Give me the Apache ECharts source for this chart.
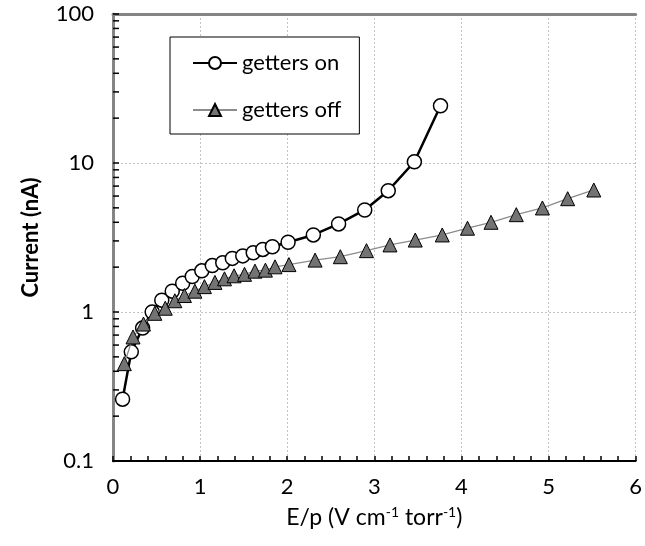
<!DOCTYPE html>
<html>
<head>
<meta charset="utf-8">
<script src="https://cdn.jsdelivr.net/npm/echarts@6/dist/echarts.min.js"></script>
<style>
  html, body { margin: 0; padding: 0; background: #fff; }
  #chart { width: 645px; height: 546px; }
</style>
</head>
<body>
<div id="chart"></div>
<script>
// getters on (circles)
const onX = [0.11, 0.21, 0.34, 0.45, 0.56, 0.68, 0.80, 0.91, 1.02, 1.14, 1.26, 1.37, 1.49, 1.61, 1.72, 1.83, 2.01, 2.30, 2.59, 2.89, 3.16, 3.46, 3.76];
const onY = [0.26, 0.54, 0.78, 1.0, 1.2, 1.38, 1.56, 1.73, 1.89, 2.05, 2.14, 2.29, 2.38, 2.5, 2.63, 2.74, 2.94, 3.29, 3.9, 4.84, 6.52, 10.2, 24.2];
// getters off (triangles)
const offX = [0.13, 0.23, 0.35, 0.48, 0.60, 0.71, 0.82, 0.94, 1.05, 1.17, 1.28, 1.39, 1.51, 1.63, 1.75, 1.86, 2.02, 2.32, 2.61, 2.91, 3.18, 3.47, 3.78, 4.07, 4.34, 4.63, 4.93, 5.22, 5.52];
const offY = [0.45, 0.68, 0.83, 0.98, 1.06, 1.19, 1.29, 1.38, 1.48, 1.58, 1.67, 1.75, 1.79, 1.88, 1.91, 2.01, 2.08, 2.23, 2.35, 2.58, 2.82, 3.04, 3.29, 3.65, 4.0, 4.5, 4.99, 5.76, 6.59];
// log axis minor tick values
const yMinorTicks = [0.2, 0.3, 0.4, 0.5, 0.6, 0.7, 0.8, 0.9, 2, 3, 4, 5, 6, 7, 8, 9, 20, 30, 40, 50, 60, 70, 80, 90];

const font = 'Lato';

let chart = echarts.init(document.getElementById('chart'));

const options = {
  animation: false,
  textStyle: { fontFamily: font },
  grid: { left: 113, right: 7, top: 14, bottom: 85 },
  legend: {
    data: ['getters on', 'getters off'],
    orient: 'vertical',
    left: 170,
    top: 37,
    backgroundColor: '#fff',
    borderColor: '#000',
    borderWidth: 1,
    borderRadius: 0,
    padding: [15, 18, 13, 22],
    itemGap: 25,
    itemWidth: 44,
    itemHeight: 15,
    textStyle: { fontSize: 22, color: '#000', fontFamily: font }
  },
  xAxis: [
    {
      type: 'value',
      min: 0,
      max: 6,
      interval: 1,
      name: 'E/p (V cm{sup|-1} torr{sup|-1})',
      nameLocation: 'middle',
      nameGap: 44,
      nameTextStyle: {
        fontSize: 23,
        color: '#000',
        fontFamily: font,
        rich: {
          sup: { fontSize: 14, color: '#000', fontFamily: font, padding: [0, 0, 11, 0] }
        }
      },
      axisLine: { lineStyle: { color: '#000', width: 2 } },
      axisTick: { inside: true, length: 5, lineStyle: { color: '#000', width: 1.5 } },
      minorTick: { show: true, splitNumber: 5, length: 5, lineStyle: { color: '#000', width: 1.5 } },
      axisLabel: { margin: 15, fontSize: 22, color: '#000', fontFamily: font },
      splitLine: { show: true, lineStyle: { color: '#c4c4c4', width: 1, type: [2, 2] } }
    },
    {
      type: 'value',
      position: 'top',
      min: 0,
      max: 6,
      axisLine: { show: true, lineStyle: { color: '#858585', width: 3 } },
      axisTick: { show: false },
      axisLabel: { show: false },
      splitLine: { show: false }
    }
  ],
  yAxis: [
    {
      type: 'log',
      logBase: 10,
      min: 0.1,
      max: 100,
      name: 'Current (nA)',
      nameLocation: 'middle',
      nameGap: 71,
      nameRotate: 90,
      nameTextStyle: { fontSize: 22, fontWeight: 'bold', color: '#000', fontFamily: font },
      axisLine: { show: true, lineStyle: { color: '#000', width: 2 } },
      axisTick: { show: true, inside: true, length: 6, lineStyle: { color: '#000', width: 1.5 } },
      axisLabel: { margin: 19, fontSize: 22, color: '#000', fontFamily: font },
      splitLine: { show: true, lineStyle: { color: '#c4c4c4', width: 1, type: [2, 2] } }
    },
    {
      type: 'log',
      logBase: 10,
      position: 'right',
      min: 0.1,
      max: 100,
      axisLine: { show: true, lineStyle: { color: '#858585', width: 3 } },
      axisTick: { show: false },
      axisLabel: { show: false },
      splitLine: { show: false }
    }
  ],
  series: [
    {
      type: 'custom',
      silent: true,
      z: 1,
      data: yMinorTicks.map(v => [0, v]),
      renderItem: function (params, api) {
        const p = api.coord([api.value(0), api.value(1)]);
        return {
          type: 'line',
          shape: { x1: p[0], y1: p[1], x2: p[0] + 6, y2: p[1] },
          style: { stroke: '#000', lineWidth: 1.5 }
        };
      }
    },
    {
      name: 'getters on',
      type: 'line',
      data: onX.map((x, i) => [x, onY[i]]),
      symbol: 'circle',
      symbolSize: 14,
      lineStyle: { color: '#000', width: 2.5 },
      itemStyle: { color: '#fff', borderColor: '#000', borderWidth: 1.5 },
      z: 3
    },
    {
      name: 'getters off',
      type: 'line',
      data: offX.map((x, i) => [x, offY[i]]),
      symbol: 'triangle',
      symbolSize: 14,
      lineStyle: { color: '#8c8c8c', width: 1.3 },
      itemStyle: { color: '#737373', borderColor: '#000', borderWidth: 1 },
      z: 4
    }
  ]
};

chart.setOption(options);
</script>
</body>
</html>
